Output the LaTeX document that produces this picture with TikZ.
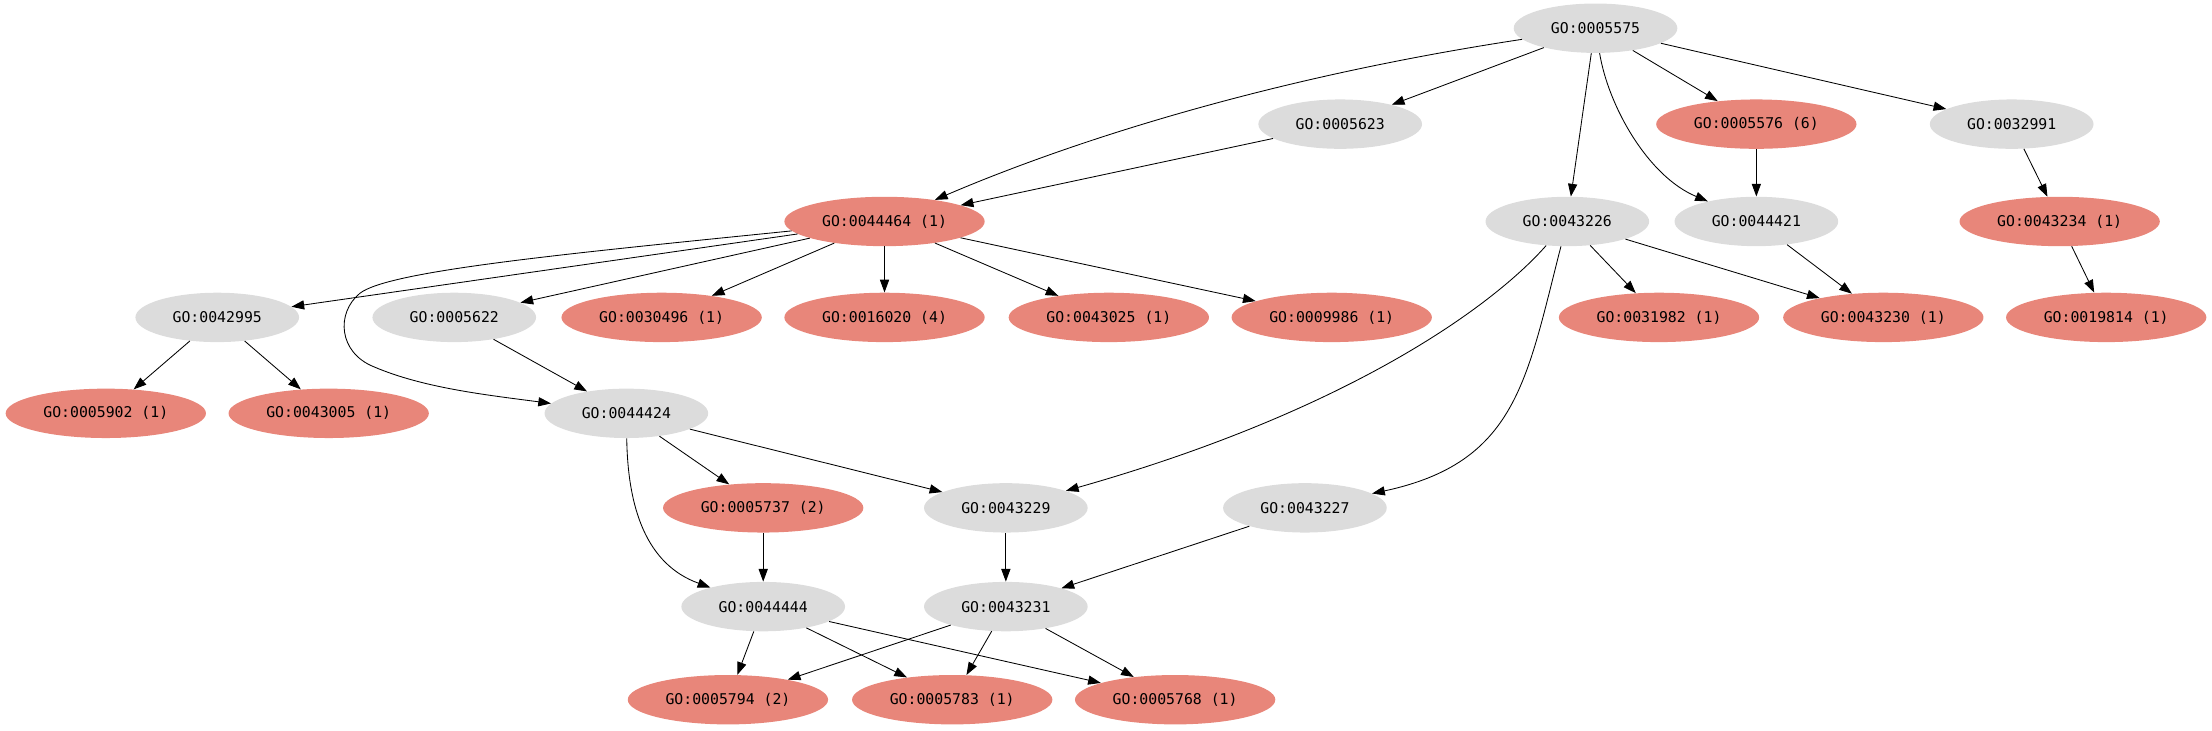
\documentclass[tikz,border=0pt]{standalone}
\usepackage{fontspec}
\setmonofont{DejaVu Sans Mono}
\usetikzlibrary{shapes.geometric,arrows.meta}
\definecolor{gonode}{HTML}{DCDCDC}
\definecolor{hitnode}{HTML}{E8867A}
\tikzset{
  gobox/.style={ellipse, fill=gonode, minimum width=116pt, minimum height=35pt, inner sep=0pt, font=\ttfamily\fontsize{10.5}{12}\selectfont},
  hitbox/.style={ellipse, fill=hitnode, minimum width=142pt, minimum height=35pt, inner sep=0pt, font=\ttfamily\fontsize{10.5}{12}\selectfont},
  edge/.style={draw=black, line width=0.6pt, -{Triangle[length=9pt,width=6.5pt]}}
}
\begin{document}
\begin{tikzpicture}[x=1pt,y=-1pt]
\useasboundingbox (0,0) rectangle (1568,518);
% row 1
\node[gobox] (n5575) at (1131,20) {GO:0005575};
% row 2
\node[gobox] (n5623) at (950,88) {GO:0005623};
\node[hitbox] (n5576) at (1245,88) {GO:0005576 (6)};
\node[gobox] (n32991) at (1426,88) {GO:0032991};
% row 3
\node[hitbox] (n44464) at (627,157) {GO:0044464 (1)};
\node[gobox] (n43226) at (1111,157) {GO:0043226};
\node[gobox] (n44421) at (1245,157) {GO:0044421};
\node[hitbox] (n43234) at (1460,157) {GO:0043234 (1)};
% row 4
\node[gobox] (n42995) at (154,225) {GO:0042995};
\node[gobox] (n5622) at (322,225) {GO:0005622};
\node[hitbox] (n30496) at (469,225) {GO:0030496 (1)};
\node[hitbox] (n16020) at (627,225) {GO:0016020 (4)};
\node[hitbox] (n43025) at (786,225) {GO:0043025 (1)};
\node[hitbox] (n9986) at (944,225) {GO:0009986 (1)};
\node[hitbox] (n31982) at (1176,225) {GO:0031982 (1)};
\node[hitbox] (n43230) at (1335,225) {GO:0043230 (1)};
\node[hitbox] (n19814) at (1493,225) {GO:0019814 (1)};
% row 5
\node[hitbox] (n5902) at (75,293) {GO:0005902 (1)};
\node[hitbox] (n43005) at (233,293) {GO:0043005 (1)};
\node[gobox] (n44424) at (444,293) {GO:0044424};
% row 6
\node[hitbox] (n5737) at (541,360) {GO:0005737 (2)};
\node[gobox] (n43229) at (713,360) {GO:0043229};
\node[gobox] (n43227) at (925,360) {GO:0043227};
% row 7
\node[gobox] (n44444) at (541,430) {GO:0044444};
\node[gobox] (n43231) at (713,430) {GO:0043231};
% row 8
\node[hitbox] (n5794) at (516,496) {GO:0005794 (2)};
\node[hitbox] (n5783) at (675,496) {GO:0005783 (1)};
\node[hitbox] (n5768) at (833,496) {GO:0005768 (1)};

% edges
\draw[edge] (n5575) .. controls (900,55) and (760,100) .. (n44464);
\draw[edge] (n5575) -- (n5623);
\draw[edge] (n5575) -- (n5576);
\draw[edge] (n5575) -- (n32991);
\draw[edge] (n5575.south) ++(-3,0) -- (n43226);
\draw[edge] (n5575) .. controls (1140,75) and (1168,125) .. (n44421);
\draw[edge] (n5623) -- (n44464);
\draw[edge] (n5576) -- (n44421);
\draw[edge] (n32991) -- (n43234);
\draw[edge] (n43234) -- (n19814);
\draw[edge] (n44421) -- (n43230);
\draw[edge] (n43226) -- (n31982);
\draw[edge] (n43226) -- (n43230);
\draw[edge] (n43226) .. controls (1060,215) and (960,290) .. (n43229);
\draw[edge] (n43226) .. controls (1082,270) and (1075,328) .. (n43227);
\draw[edge] (n44464) -- (n42995);
\draw[edge] (n44464) .. controls (400,180) and (275,192) .. (255,208)
  .. controls (238,222) and (240,250) .. (265,260)
  .. controls (300,275) and (345,280) .. (n44424);
\draw[edge] (n44464) -- (n5622);
\draw[edge] (n44464) -- (n30496);
\draw[edge] (n44464) -- (n16020);
\draw[edge] (n44464) -- (n43025);
\draw[edge] (n44464) -- (n9986);
\draw[edge] (n42995) -- (n5902);
\draw[edge] (n42995) -- (n43005);
\draw[edge] (n5622) -- (n44424);
\draw[edge] (n44424) -- (n5737);
\draw[edge] (n44424) -- (n43229);
\draw[edge] (n44424) .. controls (445,360) and (458,400) .. (n44444);
\draw[edge] (n5737) -- (n44444);
\draw[edge] (n43229) -- (n43231);
\draw[edge] (n43227) -- (n43231);
\draw[edge] (n44444) -- (n5794);
\draw[edge] (n44444) -- (n5783);
\draw[edge] (n44444) -- (n5768);
\draw[edge] (n43231) -- (n5794);
\draw[edge] (n43231) -- (n5783);
\draw[edge] (n43231) -- (n5768);
\end{tikzpicture}
\end{document}
